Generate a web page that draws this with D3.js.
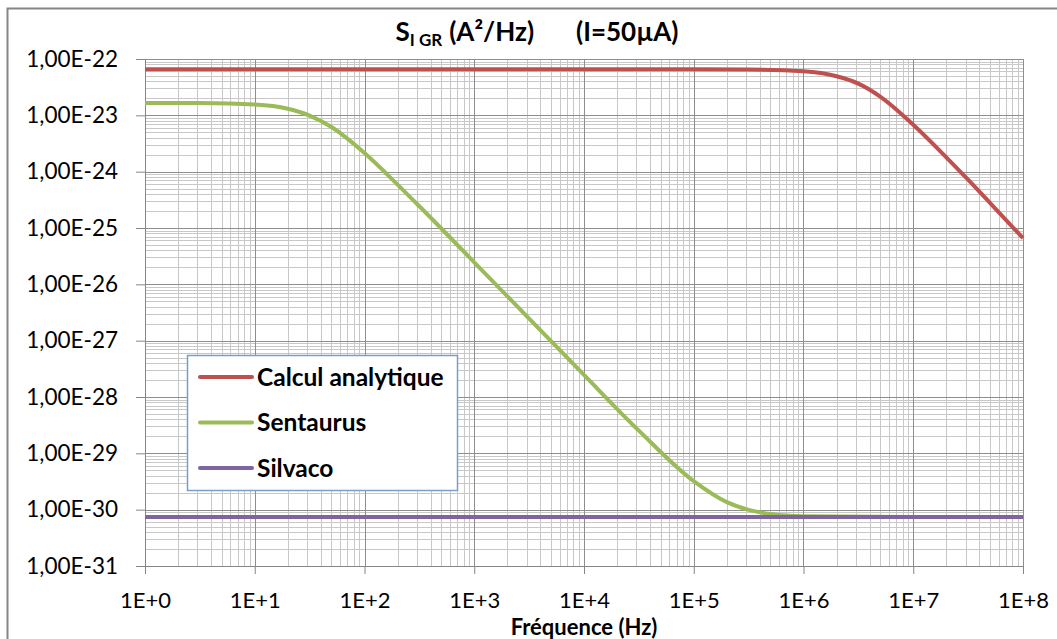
<!DOCTYPE html>
<html>
<head>
<meta charset="utf-8">
<script src="https://cdn.jsdelivr.net/npm/d3@7"></script>
<style>
  html, body { margin: 0; padding: 0; background: #fff; }
  svg { display: block; }
  text { font-family: Lato, "Liberation Sans", sans-serif; fill: #000; }
</style>
</head>
<body>
<svg id="chart" width="1057" height="639"></svg>
<script>
// ---- data ----
const xTickValues = [1e0, 1e1, 1e2, 1e3, 1e4, 1e5, 1e6, 1e7, 1e8];
const xTickLabels = ["1E+0", "1E+1", "1E+2", "1E+3", "1E+4", "1E+5", "1E+6", "1E+7", "1E+8"];
const yTickValues = [1e-22, 1e-23, 1e-24, 1e-25, 1e-26, 1e-27, 1e-28, 1e-29, 1e-30, 1e-31];
const yTickLabels = ["1,00E-22", "1,00E-23", "1,00E-24", "1,00E-25", "1,00E-26", "1,00E-27", "1,00E-28", "1,00E-29", "1,00E-30", "1,00E-31"];

const seriesNames = ["Calcul analytique", "Sentaurus", "Silvaco"];

const freqAnalytique = [1, 1e5, 3.16e5, 1e6, 2e6, 3.16e6, 5e6, 1e7, 2e7, 3.16e7, 5e7, 1e8];
const valAnalytique  = [6.55e-23, 6.55e-23, 6.50e-23, 6.06e-23, 4.94e-23, 3.65e-23, 2.15e-23, 6.8e-24, 1.8e-24, 7.2e-25, 2.8e-25, 6.6e-26];

const freqSentaurus = [1, 3.16, 10, 20, 31.6, 50, 100, 200, 316, 1000, 3162, 1e4, 3.16e4, 1e5, 2e5, 3.16e5, 5e5, 1e6, 1e7, 1e8];
const valSentaurus  = [1.66e-23, 1.65e-23, 1.555e-23, 1.31e-23, 9.9e-24, 6.2e-24, 2.14e-24, 5.9e-25, 2.43e-25, 2.46e-26, 2.46e-27, 2.46e-28, 2.53e-29, 3.2e-30, 1.36e-30, 9.9e-31, 8.4e-31, 7.65e-31, 7.4e-31, 7.4e-31];

const freqSilvaco = [1, 1e8];
const valSilvaco  = [7.4e-31, 7.4e-31];

// ---- layout ----
const svg = d3.select("#chart");
const pLeft = 145, pRight = 1023, pTop = 59, pBottom = 566;
const colors = ["#C0504D", "#9BBB59", "#8064A2"];

const x = d3.scaleLog().domain([1e0, 1e8]).range([pLeft, pRight]);
const y = d3.scaleLog().domain([1e-31, 1e-22]).range([pBottom, pTop]);

// outer chart border
svg.append("rect").attr("x", 7.5).attr("y", 8.5).attr("width", 1070).attr("height", 650)
  .attr("fill", "#fff").attr("stroke", "#868686").attr("stroke-width", 2);

// minor grid
const g = svg.append("g");
const xMinor = [], yMinor = [];
for (let i = 0; i < xTickValues.length - 1; i++)
  for (let k = 2; k <= 9; k++) xMinor.push(xTickValues[i] * k);
for (let i = 1; i < yTickValues.length; i++)
  for (let k = 2; k <= 9; k++) yMinor.push(yTickValues[i] * k);

g.selectAll(".xminor").data(xMinor).enter().append("line")
  .attr("x1", d => Math.round(x(d)) + 0.5).attr("x2", d => Math.round(x(d)) + 0.5)
  .attr("y1", pTop).attr("y2", pBottom).attr("stroke", "#c8c8c8").attr("stroke-width", 1);
g.selectAll(".yminor").data(yMinor).enter().append("line")
  .attr("y1", d => Math.round(y(d)) + 0.5).attr("y2", d => Math.round(y(d)) + 0.5)
  .attr("x1", pLeft).attr("x2", pRight).attr("stroke", "#c8c8c8").attr("stroke-width", 1);

// major grid
g.selectAll(".xmajor").data(xTickValues).enter().append("line")
  .attr("x1", d => Math.round(x(d)) + 0.5).attr("x2", d => Math.round(x(d)) + 0.5)
  .attr("y1", pTop).attr("y2", pBottom).attr("stroke", "#8e8e8e").attr("stroke-width", 1);
g.selectAll(".ymajor").data(yTickValues).enter().append("line")
  .attr("y1", d => Math.round(y(d)) + 0.5).attr("y2", d => Math.round(y(d)) + 0.5)
  .attr("x1", pLeft).attr("x2", pRight).attr("stroke", "#8e8e8e").attr("stroke-width", 1);

// axes
const xAxis = d3.axisBottom(x).tickValues(xTickValues)
  .tickFormat((d, i) => xTickLabels[i]).tickSize(8).tickPadding(18);
const yAxis = d3.axisLeft(y).tickValues(yTickValues)
  .tickFormat((d, i) => yTickLabels[i]).tickSize(9).tickPadding(18);

const gx = svg.append("g").attr("transform", `translate(0,${pBottom})`).call(xAxis);
const gy = svg.append("g").attr("transform", `translate(${pLeft},0)`).call(yAxis);
[gx, gy].forEach(a => {
  a.select(".domain").attr("stroke", "#868686");
  a.selectAll(".tick line").attr("stroke", "#868686");
  a.selectAll(".tick text").style("font-size", "22.5px").attr("fill", "#000")
    .style("font-family", "Lato, 'Liberation Sans', sans-serif");
});
gx.selectAll(".tick text").style("font-size", "22px").attr("dy", "0.71em").attr("y", 26);
gy.selectAll(".tick text").attr("x", -27);

// lines
const line = d3.line().x(d => x(d[0])).y(d => y(d[1])).curve(d3.curveMonotoneX);
const series = [
  { f: freqAnalytique, v: valAnalytique, c: colors[0] },
  { f: freqSentaurus, v: valSentaurus, c: colors[1] },
  { f: freqSilvaco, v: valSilvaco, c: colors[2] }
];
[1, 0, 2].forEach(i => {
  const s = series[i];
  svg.append("path").datum(s.f.map((f, j) => [f, s.v[j]]))
    .attr("d", line).attr("fill", "none").attr("stroke", s.c)
    .attr("stroke-width", 4).attr("stroke-linejoin", "round");
});

// title
const title = svg.append("text").attr("x", 537).attr("y", 41).attr("text-anchor", "middle")
  .style("font-size", "26px").style("font-weight", "bold");
title.append("tspan").text("S");
title.append("tspan").attr("dy", 5).style("font-size", "17px").text("I GR");
title.append("tspan").attr("dy", -5).attr("dx", 7).text("(A²/Hz)");
title.append("tspan").attr("dx", 42).text("(I=50µA)");

// x axis title
svg.append("text").attr("x", 584).attr("y", 635).attr("text-anchor", "middle")
  .style("font-size", "22px").style("font-weight", "bold").text("Fréquence (Hz)");

// legend
const lg = svg.append("g");
lg.append("rect").attr("x", 187.5).attr("y", 355.5).attr("width", 270).attr("height", 135)
  .attr("fill", "#fff").attr("stroke", "#7a9ccf").attr("stroke-width", 1.5);
seriesNames.forEach((name, i) => {
  const yy = 377 + i * 45.5;
  lg.append("line").attr("x1", 200).attr("x2", 252).attr("y1", yy).attr("y2", yy)
    .attr("stroke", colors[i]).attr("stroke-width", 4).attr("stroke-linecap", "round");
  lg.append("text").attr("x", 257).attr("y", yy).attr("dy", "0.36em")
    .style("font-size", "24.5px").style("font-weight", "bold").text(name);
});
</script>
</body>
</html>
